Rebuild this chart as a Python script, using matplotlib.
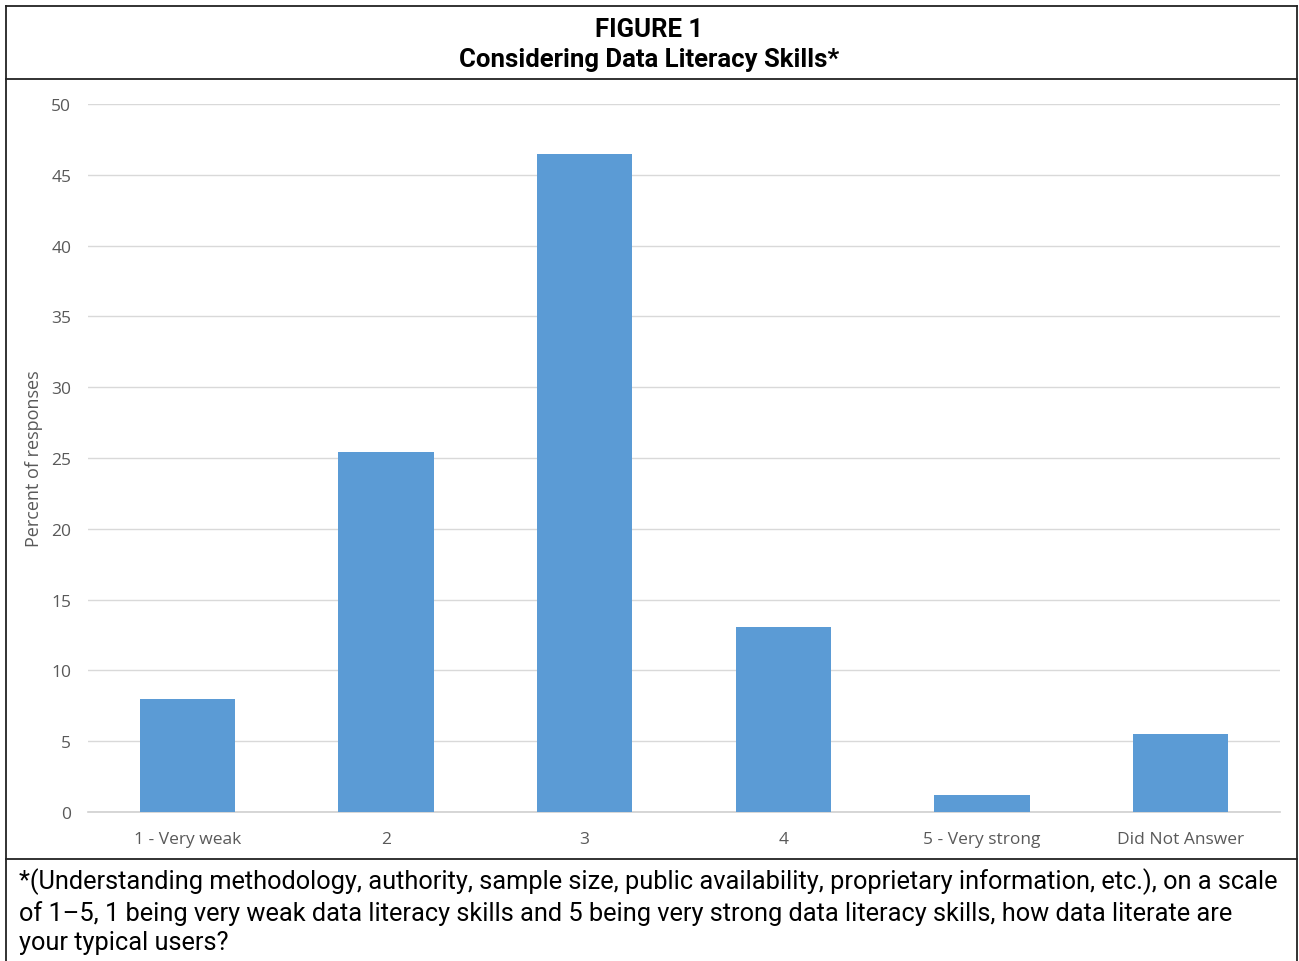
import matplotlib

matplotlib.use("Agg")
import matplotlib.pyplot as plt
from matplotlib.lines import Line2D

categories = ["1 - Very weak", "2", "3", "4", "5 - Very strong", "Did Not Answer"]
percent = [8.0, 25.4, 46.5, 13.1, 1.2, 5.5]
y_ticks = [0, 5, 10, 15, 20, 25, 30, 35, 40, 45, 50]

title_top = "FIGURE 1"
title_sub = "Considering Data Literacy Skills*"
footnote = ("*(Understanding methodology, authority, sample size, public availability, "
            "proprietary information, etc.), on a scale\n"
            "of 1\u20135, 1 being very weak data literacy skills and 5 being very strong "
            "data literacy skills, how data literate are\n"
            "your typical users?")

narrow = ["Roboto", "DejaVu Sans"]
body = ["Open Sans", "DejaVu Sans"]

fig = plt.figure(figsize=(12.99, 9.62), dpi=100)
W, H = 1299, 962


def fx(px):
    return px / W


def fy(py):
    return 1 - py / H


# frame around the whole figure, plus the header/footer rules
frame_kw = dict(color="#222222", lw=1.3, transform=fig.transFigure)
for xs, ys in [
    ((6, 1297), (7, 7)),
    ((6, 6), (7, 962)),
    ((1297, 1297), (7, 962)),
    ((6, 1297), (80, 80)),
    ((6, 1297), (860, 860)),
]:
    fig.add_artist(Line2D([fx(x) for x in xs], [fy(y) for y in ys], **frame_kw))

fig.text(0.5, fy(30), title_top, ha="center", va="center", fontsize=18.5,
         fontweight="bold", family=narrow)
fig.text(0.5, fy(60), title_sub, ha="center", va="center", fontsize=18.5,
         fontweight="bold", family=narrow)
fig.text(fx(19), fy(868), footnote, ha="left", va="top", fontsize=18.3,
         family=narrow, linespacing=1.3)

ax = fig.add_axes([fx(88), fy(813), fx(1280) - fx(88), fy(105) - fy(813)])
x = list(range(len(categories)))
ax.bar(x, percent, width=0.48, color="#5b9bd5", zorder=3)
ax.set_xlim(-0.5, len(categories) - 0.5)
ax.set_ylim(0, 50)
ax.set_yticks(y_ticks)
ax.set_xticks(x)
ax.set_xticklabels(categories)
ax.grid(axis="y", color="#d9d9d9", lw=1, zorder=0)
for side in ("top", "right", "left"):
    ax.spines[side].set_visible(False)
ax.spines["bottom"].set_color("#d0d0d0")
ax.spines["bottom"].set_linewidth(1.2)
ax.tick_params(length=0, labelsize=12.5, labelcolor="#595959", pad=14)
ax.tick_params(axis="y", pad=12)
for lbl in ax.get_xticklabels() + ax.get_yticklabels():
    lbl.set_family(body)
ax.set_ylabel("Percent of responses", fontsize=13, color="#595959",
              family=body, labelpad=6)

fig.savefig("out.png", dpi=100)
